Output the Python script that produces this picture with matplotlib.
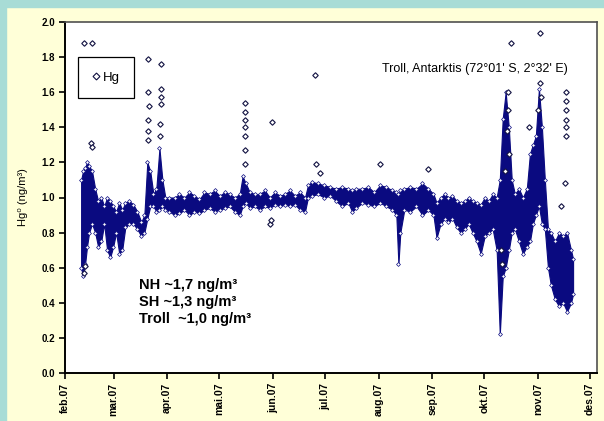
import matplotlib
matplotlib.use('Agg')
import matplotlib.pyplot as plt
import numpy as np
from matplotlib.lines import Line2D

plt.rcParams['font.family'] = ['Liberation Sans', 'DejaVu Sans']

# days after 1 Feb 2007
band_day = [9.3, 10.4, 11.6, 12.7, 13.9, 15.6, 17.4, 19.1, 20.9, 22.6, 24.3, 26.1, 27.8, 29.5,
            31.3, 33.0, 34.8, 37.1, 39.4, 41.7, 44.0, 45.8, 47.5, 49.2, 51.0, 52.7, 54.5, 56.2,
            57.9, 60.3, 63.2, 66.0, 68.9, 71.8, 74.7, 77.6, 80.5, 83.4, 86.3, 89.2, 92.1, 95.0,
            97.9, 100.8, 102.5, 104.3, 106.6, 109.5, 112.4, 115.3, 118.2, 121.1, 124.0, 126.9,
            129.8, 132.7, 135.6, 138.5, 140.2, 142.5, 146.0, 149.5, 153.0, 156.4, 159.9, 163.4,
            165.7, 168.0, 171.5, 175.0, 178.4, 181.9, 185.4, 188.9, 191.2, 192.4, 193.5, 195.8,
            199.3, 202.8, 206.3, 209.7, 212.6, 214.4, 216.7, 219.0, 221.3, 223.6, 226.0, 228.3,
            230.6, 232.9, 235.2, 237.5, 239.9, 242.2, 244.5, 246.8, 249.1, 250.9, 252.6, 254.3,
            256.1, 257.8, 259.6, 261.9, 264.2, 266.5, 268.3, 270.0, 271.7, 273.5, 275.2, 276.9,
            278.7, 280.4, 282.7, 285.1, 287.4, 289.7, 292.0, 293.2]
band_lo = [0.60, 0.55, 0.62, 0.72, 0.80, 0.85, 0.80, 0.72, 0.75, 0.85, 0.70, 0.66, 0.72, 0.80,
           0.68, 0.70, 0.83, 0.85, 0.85, 0.82, 0.78, 0.80, 0.88, 0.95, 0.95, 0.92, 0.93, 0.95,
           0.93, 0.92, 0.90, 0.91, 0.93, 0.90, 0.92, 0.91, 0.93, 0.94, 0.92, 0.93, 0.94, 0.95,
           0.92, 0.90, 0.95, 0.97, 0.94, 0.95, 0.93, 0.95, 0.94, 0.96, 0.95, 0.96, 0.95, 0.96,
           0.93, 0.92, 1.00, 1.01, 1.02, 1.00, 1.01, 0.98, 0.95, 0.97, 0.92, 0.94, 0.97, 0.96,
           0.95, 0.97, 0.95, 0.93, 0.90, 0.62, 0.80, 0.93, 0.92, 0.95, 0.90, 0.93, 0.90, 0.77,
           0.85, 0.88, 0.86, 0.88, 0.83, 0.80, 0.82, 0.85, 0.80, 0.75, 0.68, 0.78, 0.80, 0.82,
           0.70, 0.22, 0.55, 0.60, 0.70, 0.80, 0.82, 0.75, 0.68, 0.72, 0.75, 0.85, 0.90, 0.95,
           0.85, 0.82, 0.60, 0.50, 0.42, 0.38, 0.40, 0.35, 0.40, 0.45]
band_hi = [1.10, 1.15, 1.17, 1.20, 1.18, 1.15, 1.05, 0.98, 1.00, 0.95, 1.00, 0.98, 0.95, 0.92,
           0.97, 0.93, 0.97, 0.98, 0.96, 0.92, 0.86, 0.90, 1.20, 1.15, 1.02, 1.05, 1.28, 1.10,
           1.00, 1.00, 1.00, 1.02, 1.00, 1.03, 1.01, 0.99, 1.03, 1.02, 1.04, 1.01, 1.03, 1.02,
           1.00, 1.02, 1.12, 1.08, 1.03, 1.02, 1.02, 1.04, 1.00, 1.03, 1.01, 1.02, 1.04, 1.01,
           1.03, 1.00, 1.07, 1.09, 1.08, 1.07, 1.06, 1.05, 1.06, 1.05, 1.04, 1.05, 1.05, 1.06,
           1.03, 1.07, 1.06, 1.04, 1.03, 1.02, 1.04, 1.05, 1.06, 1.05, 1.08, 1.05, 1.02, 0.97,
           1.00, 1.02, 1.00, 1.01, 0.98, 0.97, 0.98, 1.00, 0.98, 0.97, 0.96, 1.00, 0.98, 1.02,
           1.00, 1.10, 1.45, 1.60, 1.40, 1.10, 1.02, 1.05, 1.00, 1.05, 1.25, 1.30, 1.35, 1.62,
           1.40, 1.10, 0.82, 0.80, 0.75, 0.80, 0.78, 0.80, 0.70, 0.65]

out_day = [11.0, 15.6, 15.1, 15.6, 11.0, 11.6,
           48.1, 55.6, 48.1, 55.6, 55.6, 48.7, 55.6, 48.1, 48.1, 48.1, 55.0, 55.0,
           103.7, 103.7, 103.7, 103.7, 103.7, 103.7, 103.7, 119.3, 118.2, 118.7,
           144.3, 144.8, 147.2, 181.9, 209.2,
           257.2, 274.0, 267.7, 289.1, 289.1, 289.1, 289.1, 289.1, 289.1, 288.5, 286.2,
           255.5, 255.5, 254.9, 256.1, 253.8, 274.0, 274.6, 272.9, 252.0, 251.5]
out_val = [1.88, 1.88, 1.31, 1.29, 0.57, 0.61,
           1.79, 1.76, 1.60, 1.62, 1.57, 1.52, 1.53, 1.44, 1.38, 1.33, 1.42, 1.35,
           1.54, 1.49, 1.44, 1.40, 1.35, 1.27, 1.19, 1.43, 0.85, 0.87,
           1.70, 1.19, 1.14, 1.19, 1.16,
           1.88, 1.94, 1.40, 1.60, 1.55, 1.50, 1.44, 1.40, 1.35, 1.08, 0.95,
           1.60, 1.50, 1.38, 1.25, 1.15, 1.65, 1.57, 1.50, 0.62, 0.70]

month_day = [0, 28, 59, 89, 120, 150, 181, 212, 242, 273, 303]
month_lab = ['feb.07', 'mar.07', 'apr.07', 'mai.07', 'jun.07', 'jul.07',
             'aug.07', 'sep.07', 'okt.07', 'nov.07', 'des.07']

navy = '#0A0A80'

fig = plt.figure(figsize=(6.04, 4.21), dpi=100, facecolor='#FFFFD8')
# teal border on top/left
fig.patches.append(plt.Rectangle((0, 0), 6 / 604, 1, transform=fig.transFigure,
                                 color='#A8DCD6', zorder=0))
fig.patches.append(plt.Rectangle((0, 1 - 7 / 421), 1, 7 / 421, transform=fig.transFigure,
                                 color='#A8DCD6', zorder=0))

ax = fig.add_axes([65 / 604, 1 - 373 / 421, 532 / 604, 351 / 421])
ax.set_facecolor('white')

ax.fill_between(band_day, band_lo, band_hi, color=navy, lw=0.8, zorder=2)
ax.plot(band_day, band_hi, ls='none', marker='D', ms=2.0, mfc='white', mec=navy,
        mew=0.5, zorder=3)
ax.plot(band_day, band_lo, ls='none', marker='D', ms=2.0, mfc='white', mec=navy,
        mew=0.5, zorder=3)
ax.plot(out_day, out_val, ls='none', marker='D', ms=2.8, mfc='white', mec='#101040',
        mew=0.8, zorder=4)

ax.set_xlim(0, 307)
ax.set_ylim(0, 2.0)
ax.set_yticks(np.arange(0, 2.01, 0.2))
ax.set_yticklabels([f'{v:.1f}' for v in np.arange(0, 2.01, 0.2)],
                   fontsize=7, fontweight='bold')
ax.set_xticks(month_day)
ax.set_xticklabels(month_lab, rotation=90, fontsize=7.5, fontweight='bold')
ax.tick_params(direction='out', length=4, width=1.2, pad=3)

for s in ['left', 'bottom']:
    ax.spines[s].set_linewidth(1.4)
for s in ['top', 'right']:
    ax.spines[s].set_color('#505050')
    ax.spines[s].set_linewidth(1.2)

ax.set_ylabel('Hg⁰ (ng/m³)', fontsize=8, labelpad=10)

ax.text(0.945, 0.865, "Troll, Antarktis (72°01' S, 2°32' E)", transform=ax.transAxes,
        ha='right', va='center', fontsize=9)
ax.text(0.14, 0.202, 'NH ~1,7 ng/m³\nSH ~1,3 ng/m³\nTroll  ~1,0 ng/m³',
        transform=ax.transAxes, ha='left', va='center', fontsize=10.5,
        fontweight='bold', linespacing=1.3)

h = Line2D([], [], ls='none', marker='D', ms=3.5, mfc='white', mec='#101040', mew=0.8)
ax.legend([h], ['Hg'], loc='upper left', bbox_to_anchor=(0.024, 0.9), borderaxespad=0,
          fancybox=False, edgecolor='black', framealpha=1, fontsize=9.5,
          handlelength=0.5, handletextpad=0.3, borderpad=1.1)
ax.get_legend().get_frame().set_linewidth(0.9)

fig.savefig('out.png', dpi=100, facecolor=fig.get_facecolor())
